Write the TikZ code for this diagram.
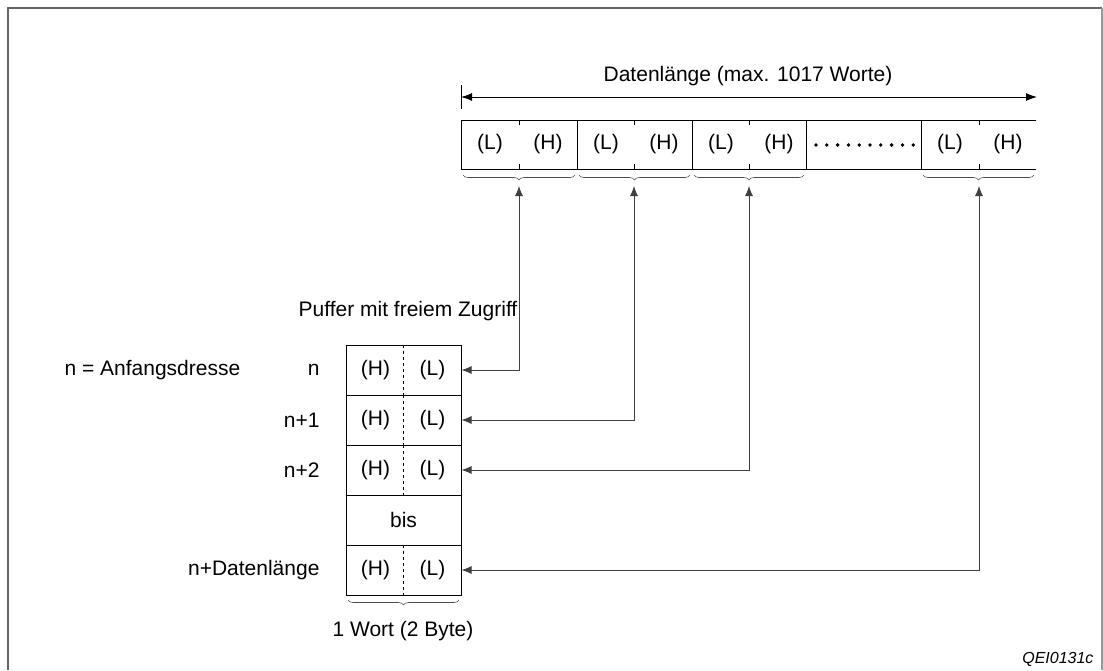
\documentclass[tikz,border=0pt]{standalone}
\usepackage{fontspec}
\setmainfont{Liberation Sans}
\usetikzlibrary{arrows.meta,decorations.pathreplacing}

\begin{document}
\begin{tikzpicture}[
    x=1pt, y=-1pt,
    font=\fontsize{21}{25}\selectfont,
    frame/.style={line width=2pt, black!60},
    row/.style={line width=1pt},
    cell/.style={rectangle, draw, line width=1pt, minimum width=115pt, minimum height=50pt, inner sep=0pt},
    half/.style={dashed, line width=0.8pt},
    brace/.style={decorate, decoration={brace, mirror, amplitude=5pt}, line width=0.6pt, black!70},
    span/.style={{Latex[length=11pt,width=8pt]}-{Latex[length=11pt,width=8pt]}, line width=1pt},
    link/.style={{Latex[length=10pt,width=8pt]}-{Latex[length=10pt,width=8pt]}, line width=0.8pt, black!75}
]
\useasboundingbox (0,0) rectangle (1103,670);

% --- Frame ---
\draw[frame] (8,670) -- (8,8) -- (1102,8);
\draw[line width=1.5pt, black!40] (1102,8) -- (1102,670);

% --- Data words ---
\node (len) at (748,76) {Datenlänge (max. 1017 Worte)};
\coordinate (SL) at (461,97);
\coordinate (SR) at (1037,97);
\draw[span] (SL) -- (SR);
\draw[row] (461,85) -- (461,109);

\draw[row] (1036,120) -- (461,120) -- (461,169) -- (1036,169);
\foreach \x in {577,692,806,921}
    \draw[row] (\x,120) -- (\x,169);
\foreach \x in {519,634,749,979} {
    \draw[line width=0.8pt] (\x,120) -- (\x,125);
    \draw[line width=0.8pt] (\x,169) -- (\x,164);
}
\foreach \i/\x in {1/461,2/577,3/692,4/921} {
    \node (L\i) at (\x+29,144) {(L)};
    \node (H\i) at (\x+87,144) {(H)};
}
\foreach \k in {0,...,9}
    \fill (816+\k*10.8,145) circle (1.9);

\foreach \a/\b in {461/577,577/692,692/806,921/1036}
    \draw[brace] (\a+2,175) -- (\b-2,175);
\coordinate (B1) at (519,186);
\coordinate (B2) at (634,186);
\coordinate (B3) at (749,186);
\coordinate (B4) at (979,186);

% --- Buffer ---
\node (buf) at (408,311) {Puffer mit freiem Zugriff};
\foreach \r/\y in {1/370,2/420,3/470,4/520,5/570}
    \node[cell] (R\r) at (403.5,\y) {};
\node (bis) at (R4) {bis};
\foreach \r in {1,2,3,5} {
    \draw[half] (R\r.north) -- (R\r.south);
    \node (RH\r) at ([xshift=-28pt]R\r.center) {(H)};
    \node (RL\r) at ([xshift=29pt]R\r.center) {(L)};
}

\node[anchor=west] (start) at (61,370) {n = Anfangsdresse};
\node[anchor=east] (A1) at (323,370) {n};
\node[anchor=east] (A2) at (323,420) {n+1};
\node[anchor=east] (A3) at (323,470) {n+2};
\node[anchor=east] (A5) at (323,570) {n+Datenlänge};

\draw[brace] (348,600) -- (459,600);
\node (word) at (403,631) {1 Wort (2 Byte)};

% --- Connections ---
\draw[link] (B1) |- (R1.east);
\draw[link] (B2) |- (R2.east);
\draw[link] (B3) |- (R3.east);
\draw[link] (B4) |- (R5.east);

\node[anchor=east, font=\fontsize{16}{19}\selectfont\itshape] (code) at (1097,659) {QEI0131c};

\end{tikzpicture}
\end{document}
